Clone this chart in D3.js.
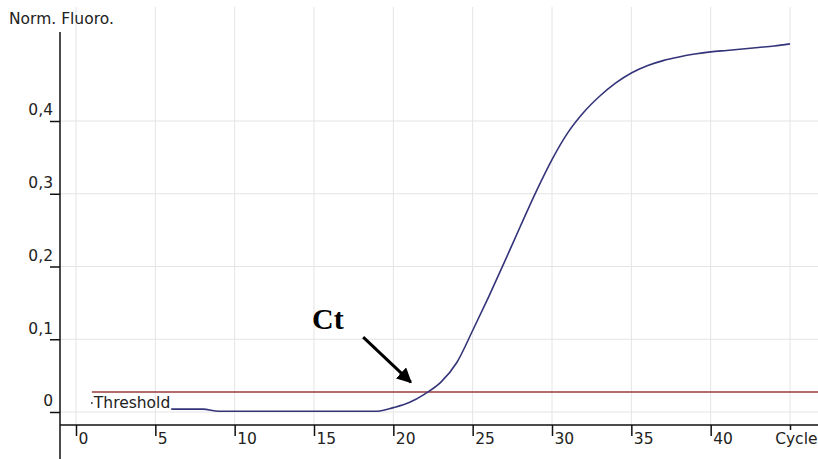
<!DOCTYPE html>
<html>
<head>
<meta charset="utf-8">
<script src="https://cdn.jsdelivr.net/npm/d3@7"></script>
<style>
  html, body { margin: 0; padding: 0; background: #fff; }
  svg { display: block; }
</style>
</head>
<body>
<svg id="chart" width="818" height="459"></svg>
<script>
// ---- data ----
const cycles = [6,7,8,9,10,11,12,13,14,15,16,17,18,19,20,21,22,23,24,25,26,27,28,29,30,31,32,33,34,35,36,37,38,39,40,41,42,43,44,45];
const fluoro = [0.004,0.004,0.004,0.001,0.001,0.001,0.001,0.001,0.001,0.001,0.001,0.001,0.001,0.001,0.006,0.013,0.025,0.041,0.068,0.112,0.158,0.206,0.255,0.303,0.347,0.384,0.412,0.434,0.452,0.466,0.476,0.483,0.488,0.492,0.495,0.497,0.499,0.501,0.503,0.506];
const xTicks = [0,5,10,15,20,25,30,35,40,45];
const xTickLabels = ["0","5","10","15","20","25","30","35","40","Cycle"];
const yTicks = [0,0.1,0.2,0.3,0.4];
const yTickLabels = ["0","0,1","0,2","0,3","0,4"];
const threshold = 0.0275;
const thresholdStart = 1;

// ---- layout ----
const FONT = "DejaVu Sans, sans-serif";
const FS = 15.5;
const svg = d3.select("#chart");
const x = d3.scaleLinear().domain([0, 45]).range([76, 790]);
const y = d3.scaleLinear().domain([0, 0.4]).range([412, 121]);
const axisX = 60, axisY = 425, plotTop = 7, plotRight = 818;

// grid
svg.append("g").selectAll("line").data(xTicks).join("line")
  .attr("x1", d => x(d)).attr("x2", d => x(d))
  .attr("y1", plotTop).attr("y2", axisY)
  .attr("stroke", "#e4e4e4").attr("stroke-width", 1);
svg.append("g").selectAll("line").data(yTicks).join("line")
  .attr("x1", axisX).attr("x2", plotRight)
  .attr("y1", d => y(d)).attr("y2", d => y(d))
  .attr("stroke", "#e4e4e4").attr("stroke-width", 1);

// threshold
svg.append("line")
  .attr("x1", x(thresholdStart)).attr("x2", plotRight)
  .attr("y1", y(threshold)).attr("y2", y(threshold))
  .attr("stroke", "#9a3a3a").attr("stroke-width", 1.5);
svg.append("circle").attr("cx", x(thresholdStart)).attr("cy", y(threshold) + 11).attr("r", 0.9).attr("fill", "#333");
svg.append("text").attr("x", x(thresholdStart) + 2).attr("y", y(threshold) + 16)
  .style("font-family", FONT).style("font-size", FS + "px").attr("fill", "#222").text("Threshold");

// curve
const line = d3.line().x((d, i) => x(cycles[i])).y(d => y(d)).curve(d3.curveMonotoneX);
svg.append("path").datum(fluoro)
  .attr("d", line)
  .attr("fill", "none").attr("stroke", "#34347a").attr("stroke-width", 1.6);

// axes
const yAxis = d3.axisLeft(y).tickValues(yTicks).tickSize(10).tickFormat((d, i) => yTickLabels[i]);
const gy = svg.append("g").attr("transform", `translate(${axisX},0)`).call(yAxis);
gy.select(".domain").remove();
gy.selectAll(".tick line").attr("stroke", "#111").attr("stroke-width", 1.5);
gy.selectAll(".tick text").attr("x", -7).attr("dy", "-0.4em")
  .style("font-size", FS + "px").attr("fill", "#222").style("font-family", FONT);

const xAxis = d3.axisBottom(x).tickValues(xTicks).tickSize(11).tickFormat((d, i) => xTickLabels[i]);
const gx = svg.append("g").attr("transform", `translate(0,${axisY})`).call(xAxis);
gx.select(".domain").remove();
gx.selectAll(".tick line").attr("stroke", "#111").attr("stroke-width", 1.5);
gx.selectAll(".tick text").attr("text-anchor", "start").attr("x", 2).attr("y", 8).attr("dy", "0.71em")
  .style("font-size", FS + "px").attr("fill", "#222").style("font-family", FONT);
gx.selectAll(".tick").filter(d => d === 45).select("text").attr("text-anchor", "end").attr("x", 27);
gx.selectAll(".tick").filter(d => d === 45).select("line").attr("y2", 5);

svg.append("line").attr("x1", axisX).attr("x2", axisX).attr("y1", 32).attr("y2", 459)
  .attr("stroke", "#111").attr("stroke-width", 1.5);
svg.append("line").attr("x1", axisX).attr("x2", plotRight).attr("y1", axisY).attr("y2", axisY)
  .attr("stroke", "#111").attr("stroke-width", 1.5);

svg.append("text").attr("x", 9).attr("y", 24)
  .style("font-family", FONT).style("font-size", FS + "px").attr("fill", "#222").text("Norm. Fluoro.");

// Ct annotation
svg.append("defs").append("marker").attr("id", "arr").attr("viewBox", "0 0 10 10")
  .attr("refX", 9).attr("refY", 5).attr("markerWidth", 5).attr("markerHeight", 5)
  .attr("markerUnits", "strokeWidth").attr("orient", "auto")
  .append("path").attr("d", "M0,0 L10,5 L0,10 z").attr("fill", "#000");
svg.append("line").attr("x1", x(18.1)).attr("y1", y(0.103)).attr("x2", x(21.1)).attr("y2", y(0.041))
  .attr("stroke", "#000").attr("stroke-width", 3).attr("marker-end", "url(#arr)");
svg.append("text").attr("x", 312).attr("y", 329)
  .style("font-family", "'Liberation Serif', 'Times New Roman', serif").style("font-weight", "bold").style("font-size", "30px")
  .attr("fill", "#000").text("Ct");
</script>
</body>
</html>
